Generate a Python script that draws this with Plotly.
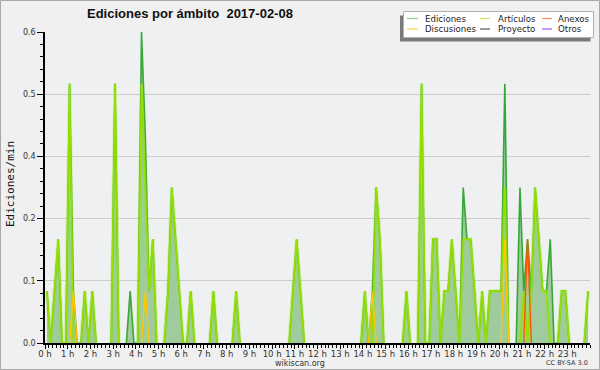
import plotly.graph_objects as go

# ---------------- data (edits per minute, 10-minute bins, 144 per day) ----------------
hour_ticks = list(range(24))
hour_labels = [f"{h} h" for h in hour_ticks]
bins_per_hour = 6

ediciones = [
    0.1, 0, 0.1, 0.2, 0, 0,        # 0 h
    0.5, 0.1, 0, 0, 0.1, 0,        # 1 h
    0.1, 0, 0, 0, 0, 0,            # 2 h
    0.5, 0, 0, 0, 0.1, 0,          # 3 h
    0, 0.6, 0.4, 0.1, 0.2, 0,      # 4 h
    0, 0, 0.1, 0.3, 0.2, 0.1,      # 5 h
    0, 0, 0.1, 0, 0, 0,            # 6 h
    0, 0, 0.1, 0, 0, 0,            # 7 h
    0, 0, 0.1, 0, 0, 0,            # 8 h
    0, 0, 0, 0, 0, 0,              # 9 h
    0, 0, 0, 0, 0, 0.1,            # 10 h
    0.2, 0.1, 0, 0, 0, 0,          # 11 h
    0, 0, 0, 0, 0, 0,              # 12 h
    0, 0, 0, 0, 0, 0,              # 13 h
    0.1, 0, 0.1, 0.3, 0.2, 0,      # 14 h
    0, 0, 0, 0, 0, 0.1,            # 15 h
    0, 0, 0, 0.5, 0, 0,            # 16 h
    0.2, 0.2, 0, 0.1, 0.1, 0.2,    # 17 h
    0.1, 0, 0.3, 0.2, 0.2, 0.1,    # 18 h
    0, 0.1, 0, 0.1, 0.1, 0.1,      # 19 h
    0.1, 0.5, 0, 0, 0, 0.3,        # 20 h
    0.1, 0.2, 0.1, 0.3, 0.2, 0.1,  # 21 h
    0.1, 0.2, 0, 0, 0.1, 0.1,      # 22 h
    0, 0, 0, 0, 0, 0.1,            # 23 h
]

articulos = [
    0.1, 0, 0.1, 0.2, 0, 0,
    0.5, 0, 0, 0, 0.1, 0,
    0.1, 0, 0, 0, 0, 0,
    0.5, 0, 0, 0, 0, 0,
    0, 0.5, 0.3, 0.1, 0.2, 0,
    0, 0, 0.1, 0.3, 0.2, 0.1,
    0, 0, 0.1, 0, 0, 0,
    0, 0, 0.1, 0, 0, 0,
    0, 0, 0.1, 0, 0, 0,
    0, 0, 0, 0, 0, 0,
    0, 0, 0, 0, 0, 0.1,
    0.2, 0.1, 0, 0, 0, 0,
    0, 0, 0, 0, 0, 0,
    0, 0, 0, 0, 0, 0,
    0.1, 0, 0, 0.3, 0.2, 0,
    0, 0, 0, 0, 0, 0.1,
    0, 0, 0, 0.5, 0, 0,
    0.2, 0.2, 0, 0.1, 0.1, 0.2,
    0.1, 0, 0.2, 0.2, 0.2, 0.1,
    0, 0.1, 0, 0.1, 0.1, 0.1,
    0.1, 0.3, 0, 0, 0, 0,
    0.1, 0, 0.1, 0.3, 0.2, 0.1,
    0.1, 0, 0, 0, 0.1, 0.1,
    0, 0, 0, 0, 0, 0.1,
]

discusiones = [
    0, 0, 0, 0, 0, 0,
    0, 0.1, 0, 0, 0, 0,
    0, 0, 0, 0, 0, 0,
    0, 0, 0, 0, 0, 0,
    0, 0, 0.1, 0, 0, 0,
    0, 0, 0, 0, 0, 0,
    0, 0, 0, 0, 0, 0,
    0, 0, 0, 0, 0, 0,
    0, 0, 0, 0, 0, 0,
    0, 0, 0, 0, 0, 0,
    0, 0, 0, 0, 0, 0,
    0, 0, 0, 0, 0, 0,
    0, 0, 0, 0, 0, 0,
    0, 0, 0, 0, 0, 0,
    0, 0, 0.1, 0, 0, 0,
    0, 0, 0, 0, 0, 0,
    0, 0, 0, 0, 0, 0,
    0, 0, 0, 0, 0, 0,
    0, 0, 0, 0, 0, 0,
    0, 0, 0, 0, 0, 0,
    0, 0.2, 0, 0, 0, 0,
    0, 0, 0, 0, 0, 0,
    0, 0, 0, 0, 0, 0,
    0, 0, 0, 0, 0, 0,
]

anexos = [
    0, 0, 0, 0, 0, 0,
    0, 0, 0, 0, 0, 0,
    0, 0, 0, 0, 0, 0,
    0, 0, 0, 0, 0, 0,
    0, 0, 0, 0, 0, 0,
    0, 0, 0, 0, 0, 0,
    0, 0, 0, 0, 0, 0,
    0, 0, 0, 0, 0, 0,
    0, 0, 0, 0, 0, 0,
    0, 0, 0, 0, 0, 0,
    0, 0, 0, 0, 0, 0,
    0, 0, 0, 0, 0, 0,
    0, 0, 0, 0, 0, 0,
    0, 0, 0, 0, 0, 0,
    0, 0, 0, 0, 0, 0,
    0, 0, 0, 0, 0, 0,
    0, 0, 0, 0, 0, 0,
    0, 0, 0, 0, 0, 0,
    0, 0, 0, 0, 0, 0,
    0, 0, 0, 0, 0, 0,
    0, 0, 0, 0, 0, 0,
    0, 0.2, 0, 0, 0, 0,
    0, 0, 0, 0, 0, 0,
    0, 0, 0, 0, 0, 0,
]

y_tickvals = [0, 0.12, 0.24, 0.36, 0.48, 0.6]
y_ticktext = ["0.0", "0.1", "0.2", "0.4", "0.5", "0.6"]

legend_names = ["Ediciones", "Artículos", "Anexos", "Discusiones", "Proyecto", "Otros"]
legend_colors = ["#8fd08f", "#c8ec6a", "#ff8a55", "#ffcf45", "#555555", "#a455ff"]

title_text = "Ediciones por ámbito  2017-02-08"

# ---------------- figure ----------------
W, H = 600, 370
L, R, T, B = 45, 10, 32, 27
PW, PH = W - L - R, H - T - B


def px(x):
    return (x - L) / PW


def py(y):
    return (H - B - y) / PH


def hide_flat_zeros(vals):
    """Keep zeros only where they touch a non-zero bin (no line along the baseline)."""
    out = []
    for i, v in enumerate(vals):
        prev_nz = i > 0 and vals[i - 1] != 0
        next_nz = i < len(vals) - 1 and vals[i + 1] != 0
        out.append(v if (v != 0 or prev_nz or next_nz) else None)
    return out


n = len(ediciones)
t = [(i + 0.5) / bins_per_hour for i in range(n)]

fig = go.Figure()
fig.add_trace(go.Scatter(x=t, y=ediciones, mode="none", fill="tozeroy",
                         fillcolor="#9fcb9f", showlegend=False, hoverinfo="skip"))
fig.add_trace(go.Scatter(x=t, y=hide_flat_zeros(ediciones), mode="lines",
                         line=dict(color="#36a836", width=1.6), connectgaps=False,
                         showlegend=False, hoverinfo="skip"))
fig.add_trace(go.Scatter(x=t, y=hide_flat_zeros(articulos), mode="lines",
                         line=dict(color="rgba(150,228,0,0.35)", width=3.5),
                         connectgaps=False, showlegend=False, hoverinfo="skip"))
fig.add_trace(go.Scatter(x=t, y=hide_flat_zeros(articulos), mode="lines",
                         line=dict(color="#95e000", width=1.5), connectgaps=False,
                         showlegend=False, hoverinfo="skip"))
fig.add_trace(go.Scatter(x=t, y=hide_flat_zeros(discusiones), mode="lines",
                         line=dict(color="#ffc800", width=1.4), connectgaps=False,
                         showlegend=False, hoverinfo="skip"))
fig.add_trace(go.Scatter(x=t, y=hide_flat_zeros(anexos), mode="lines",
                         line=dict(color="#ff5500", width=1.4), connectgaps=False,
                         showlegend=False, hoverinfo="skip"))

fig.update_layout(
    width=W, height=H, autosize=False,
    margin=dict(l=L, r=R, t=T, b=B, pad=0),
    paper_bgcolor="#f0f0f0", plot_bgcolor="#eef0f2",
    font=dict(family="DejaVu Sans", size=9, color="#333"),
    showlegend=False,
)
fig.update_xaxes(
    range=[0, 24], tickmode="array", tickvals=hour_ticks, ticktext=hour_labels,
    ticks="outside", ticklen=4, tickwidth=1, tickcolor="#000",
    showline=True, linecolor="#000", linewidth=1.5, showgrid=False, zeroline=False,
    tickfont=dict(family="DejaVu Sans", size=8.5, color="#333"),
    ticklabelstandoff=-2,
    minor=dict(tickmode="linear", tick0=0, dtick=1 / 6, ticks="outside", ticklen=3,
               tickwidth=1, tickcolor="#000", showgrid=False),
    fixedrange=True,
)
fig.update_yaxes(
    range=[0, 0.6], tickmode="array", tickvals=y_tickvals, ticktext=y_ticktext,
    ticks="outside", ticklen=6, tickwidth=1, tickcolor="#000",
    showline=True, linecolor="#000", linewidth=1.5,
    showgrid=True, gridcolor="#cccccc", gridwidth=1, zeroline=False,
    tickfont=dict(family="DejaVu Sans", size=8, color="#333"),
    minor=dict(tickmode="linear", tick0=0, dtick=0.024, ticks="outside", ticklen=3,
               tickwidth=1, tickcolor="#000", showgrid=False),
    fixedrange=True,
)

shapes = []
annotations = []

# outer border
shapes.append(dict(type="rect", xref="paper", yref="paper",
                   x0=px(0.5), x1=px(599.5), y0=py(369.5), y1=py(0.5),
                   line=dict(color="#a8a8a8", width=1), fillcolor="rgba(0,0,0,0)",
                   layer="below"))

# legend box with shadow
shapes.append(dict(type="rect", xref="paper", yref="paper",
                   x0=px(400), x1=px(590.5), y0=py(41.5), y1=py(15.5),
                   line=dict(width=0), fillcolor="#7a7a7a", layer="above"))
shapes.append(dict(type="rect", xref="paper", yref="paper",
                   x0=px(403.5), x1=px(593.5), y0=py(37.5), y1=py(11.5),
                   line=dict(color="#b0b0b0", width=1), fillcolor="#ffffff", layer="above"))

legend_pos = [(407, 418, 423, 18.5), (480, 490, 496, 18.5), (542, 552, 556, 18.5),
              (407, 418, 423, 29.0), (480, 490, 496, 29.0), (542, 552, 556, 29.0)]
for name, col, (lx0, lx1, tx, ly) in zip(legend_names, legend_colors, legend_pos):
    shapes.append(dict(type="line", xref="paper", yref="paper",
                       x0=px(lx0), x1=px(lx1), y0=py(ly), y1=py(ly),
                       line=dict(color=col, width=1.2), layer="above"))
    annotations.append(dict(text=name, xref="paper", yref="paper", x=px(tx), y=py(ly),
                            xanchor="left", yanchor="middle", showarrow=False,
                            font=dict(family="DejaVu Sans", size=8.6, color="#222")))

# title
annotations.append(dict(text=f"<b>{title_text}</b>", xref="paper", yref="paper",
                        x=px(85), y=py(14), xanchor="left", yanchor="middle",
                        showarrow=False,
                        font=dict(family="Liberation Sans", size=13, color="#111")))
# y axis title
annotations.append(dict(text="Ediciones/min", xref="paper", yref="paper",
                        x=px(10), y=py(184), xanchor="center", yanchor="middle",
                        textangle=-90, showarrow=False,
                        font=dict(family="DejaVu Sans Mono", size=11, color="#111")))
# footer
annotations.append(dict(text="wikiscan.org", xref="paper", yref="paper",
                        x=px(300), y=py(363), xanchor="center", yanchor="middle",
                        showarrow=False,
                        font=dict(family="DejaVu Sans", size=8, color="#333")))
annotations.append(dict(text="CC BY-SA 3.0", xref="paper", yref="paper",
                        x=px(590), y=py(363), xanchor="right", yanchor="middle",
                        showarrow=False,
                        font=dict(family="DejaVu Sans", size=6.5, color="#333")))

fig.update_layout(shapes=shapes, annotations=annotations)
fig.write_html("out.html", config={"displayModeBar": False},
               post_script="document.body.style.margin='0';document.body.style.padding='0';")
